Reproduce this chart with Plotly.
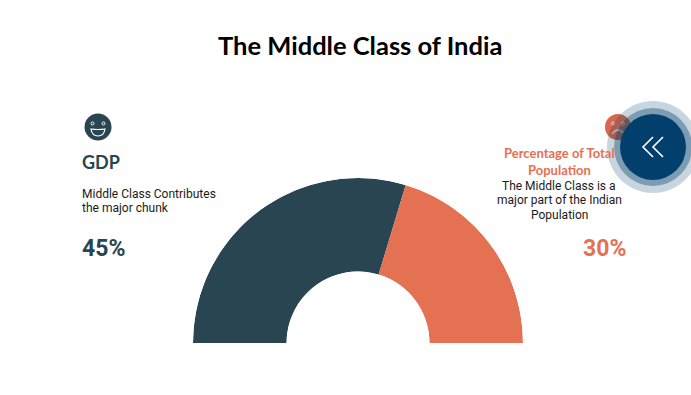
import plotly.graph_objects as go

W, H = 691, 395

labels = ["GDP", "Percentage of Total Population"]
percent_labels = ["45%", "30%"]
arc_degrees = [106.8, 73.2]
colors = ["#284551", "#e57153"]
TITLE = "The Middle Class of India"
HEAD = "Lato, Roboto, sans-serif"
BODY = "Roboto, sans-serif"

def px(x): return x / W
def py(y): return 1 - y / H

thetas = [180 - arc_degrees[0] / 2, arc_degrees[1] / 2]

fig = go.Figure(go.Barpolar(
    r=[1, 1], theta=thetas, width=arc_degrees, marker=dict(color=colors, line=dict(width=0)),
    text=[f"{l}: {p}" for l, p in zip(labels, percent_labels)], hoverinfo="text", showlegend=False,
))

def circle(cx, cy, r, color, line=None, lw=0):
    return dict(type="circle", xref="paper", yref="paper",
                x0=px(cx - r), x1=px(cx + r), y0=py(cy + r), y1=py(cy - r),
                fillcolor=color, line=dict(color=line or color, width=lw), layer="above")

def path(color, width, fill, d):
    return dict(type="path", xref="paper", yref="paper", path=d, layer="above",
                line=dict(color=color, width=width), fillcolor=fill or "rgba(0,0,0,0)")

def P(x, y): return f"{px(x):.5f},{py(y):.5f}"

shapes = [
    circle(98, 127, 13.5, "#284551"),
    circle(92.5, 123.5, 1.5, "#284551", "white", 1),
    circle(103.5, 123.5, 1.5, "#284551", "white", 1),
    path("white", 1.2, "#284551",
         f"M{P(91, 129)} Q{P(98, 130)} {P(105, 129)} Q{P(104, 136)} {P(98, 136)} Q{P(92, 136)} {P(91, 129)} Z"),
    circle(618, 127, 13, "#d9674b"),
    circle(613, 123.5, 1.5, "#d9674b", "#f3d5cc", 1),
    circle(623, 123.5, 1.5, "#d9674b", "#f3d5cc", 1),
    path("#f3d5cc", 1.4, None, f"M{P(612, 134)} Q{P(618, 126)} {P(624, 134)}"),
    circle(653, 147, 46, "rgba(2,63,108,0.22)"),
    circle(653, 147, 39, "rgba(2,63,108,0.38)"),
    circle(653, 147, 33, "#023f6c"),
    path("white", 1.6, None, f"M{P(653, 137)} L{P(643, 147)} L{P(653, 157)}"),
    path("white", 1.6, None, f"M{P(663, 137)} L{P(653, 147)} L{P(663, 157)}"),
]

def note(x, y, text, size, color, anchor="left", bold=False, family=BODY):
    return dict(xref="paper", yref="paper", x=px(x), y=py(y), text=f"<b>{text}</b>" if bold else text,
                showarrow=False, xanchor=anchor, yanchor="middle", align=anchor,
                font=dict(size=size, color=color, family=family))

INK = "#1a1a1a"
annotations = [
    note(360, 45, TITLE, 25.5, "#000000", "center", True, HEAD),
    note(80, 162, labels[0], 18, colors[0], bold=True, family=HEAD),
    note(80, 194, "Middle Class Contributes", 12, INK),
    note(80, 208, "the major chunk", 12, INK),
    note(80, 248, percent_labels[0], 23, colors[0], bold=True),
    note(559, 153, "Percentage of Total", 13, colors[1], "center", True, HEAD),
    note(559, 170, "Population", 13, colors[1], "center", True, HEAD),
    note(559, 186, "The Middle Class is a", 12, INK, "center"),
    note(559, 200, "major part of the Indian", 12, INK, "center"),
    note(559, 215, "Population", 12, INK, "center"),
    note(628, 248, percent_labels[1], 23, colors[1], "right", True),
]

fig.update_layout(
    width=W, height=H, margin=dict(l=0, r=0, t=0, b=0),
    paper_bgcolor="white", plot_bgcolor="white", showlegend=False,
    polar=dict(
        domain=dict(x=[px(193), px(523)], y=[py(343), py(178)]),
        sector=[0, 180], hole=0.433, bgcolor="white", bargap=0,
        radialaxis=dict(visible=False, range=[0, 1]),
        angularaxis=dict(visible=False, thetaunit="degrees"),
    ),
    shapes=shapes, annotations=annotations,
)

fig.write_html("out.html", config={"displayModeBar": False},
               post_script="document.body.style.margin='0';")
